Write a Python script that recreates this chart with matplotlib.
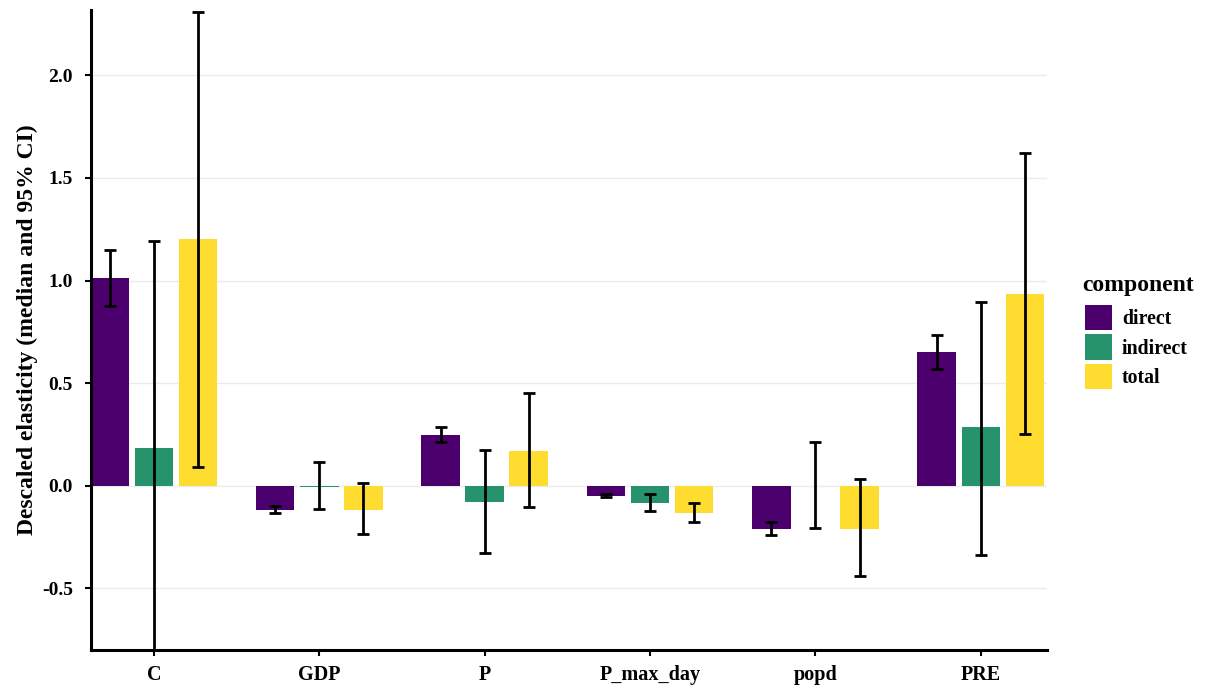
import numpy as np
import matplotlib
matplotlib.use("Agg")
import matplotlib.pyplot as plt
from matplotlib.patches import Patch

plt.rcParams["font.family"] = ["Liberation Serif", "DejaVu Serif"]
plt.rcParams["font.weight"] = "bold"

variables = ["C", "GDP", "P", "P_max_day", "popd", "PRE"]
components = ["direct", "indirect", "total"]
colors = ["#4B006E", "#26936C", "#FEDC30"]

# median and 95% CI bounds per component
direct_med = [1.01, -0.117, 0.247, -0.049, -0.209, 0.652]
direct_lo = [0.875, -0.133, 0.213, -0.057, -0.239, 0.569]
direct_hi = [1.149, -0.100, 0.286, -0.041, -0.178, 0.736]

indirect_med = [0.185, -0.005, -0.080, -0.084, 0.0, 0.285]
indirect_lo = [-0.95, -0.113, -0.328, -0.123, -0.204, -0.337]
indirect_hi = [1.195, 0.118, 0.174, -0.042, 0.213, 0.896]

total_med = [1.203, -0.120, 0.170, -0.133, -0.209, 0.936]
total_lo = [0.090, -0.235, -0.102, -0.175, -0.438, 0.252]
total_hi = [2.310, 0.016, 0.454, -0.086, 0.031, 1.622]

meds = [direct_med, indirect_med, total_med]
los = [direct_lo, indirect_lo, total_lo]
his = [direct_hi, indirect_hi, total_hi]

fig = plt.figure(figsize=(12.07, 6.94), dpi=100)
ax = fig.add_axes([0.0754, 0.0634, 0.792, 0.9222])

x = np.arange(1, len(variables) + 1)
dodge = 0.8 / 3
bw = 0.7 / 3
for i, comp in enumerate(components):
    xi = x + (i - 1) * dodge
    med = np.array(meds[i])
    ax.bar(xi, med, width=bw, color=colors[i], edgecolor="none", zorder=2)
    lo = np.array(los[i])
    hi = np.array(his[i])
    ax.errorbar(xi, med, yerr=[med - lo, hi - med], fmt="none", ecolor="black",
                elinewidth=2, capsize=4.5, capthick=2, zorder=3)

ax.set_xlim(0.62, 6.40)
ax.set_ylim(-0.8, 2.318)
ax.set_yticks([-0.5, 0.0, 0.5, 1.0, 1.5, 2.0])
ax.set_yticklabels(["-0.5", "0.0", "0.5", "1.0", "1.5", "2.0"])
ax.set_xticks(x)
ax.set_xticklabels(variables)
ax.yaxis.grid(True, color="#EBEBEB", linewidth=1, zorder=0)
ax.set_axisbelow(True)
for s in ["top", "right"]:
    ax.spines[s].set_visible(False)
for s in ["left", "bottom"]:
    ax.spines[s].set_linewidth(2.2)
ax.tick_params(axis="y", labelsize=14, width=1.5, length=4, pad=9)
ax.tick_params(axis="x", labelsize=14.5, width=1.5, length=4, pad=7)
ax.set_ylabel("Descaled elasticity (median and 95% CI)", fontsize=17, fontweight="bold", labelpad=3)

# legend title drawn separately for spacing control
fig.text(0.8964, 0.5893, "component", fontsize=17, fontweight="bold", ha="left", va="center")
handles = [Patch(facecolor=c, edgecolor="none") for c in colors]
leg = fig.legend(handles, components, loc="upper left",
                 bbox_to_anchor=(0.8906, 0.575), frameon=False, fontsize=14.3,
                 handlelength=1.36, handleheight=1.6,
                 handletextpad=0.5, labelspacing=0.2, borderpad=0)

fig.savefig("out.png", dpi=100)
